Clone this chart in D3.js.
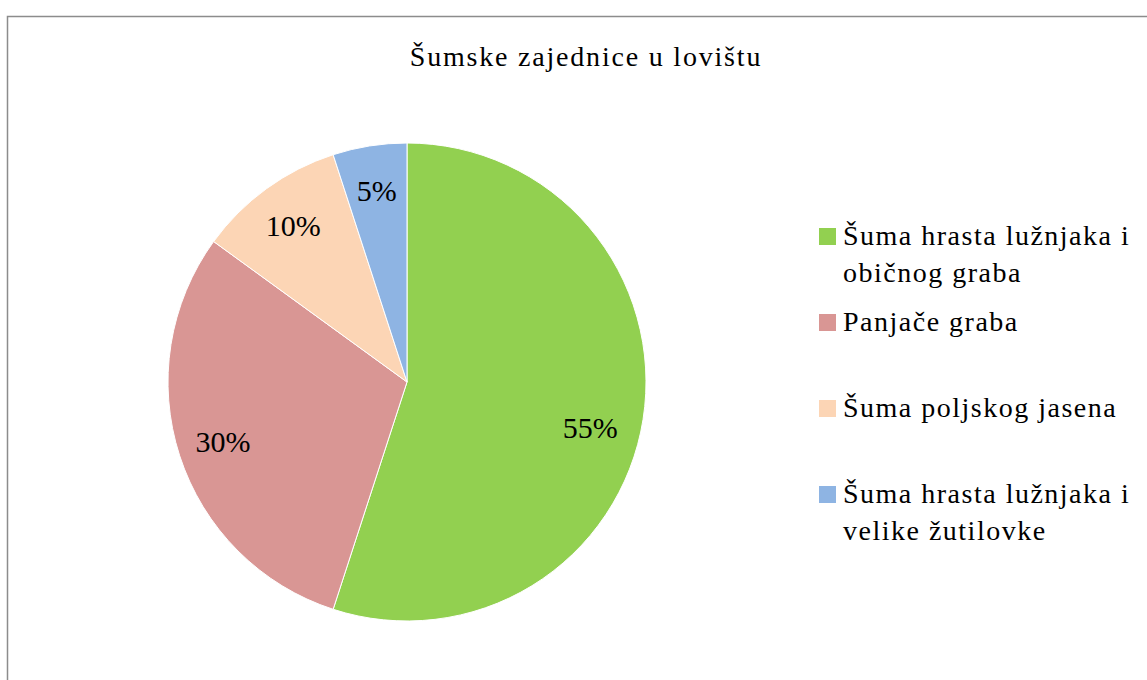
<!DOCTYPE html>
<html>
<head>
<meta charset="utf-8">
<script src="https://cdn.jsdelivr.net/npm/d3@7"></script>
<style>
  body { margin: 0; background: #fff; }
</style>
</head>
<body>
<svg id="chart" width="1147" height="680"></svg>
<script>
// chart data
const categories = [
    ["Šuma hrasta lužnjaka i", "običnog graba"],
    ["Panjače graba"],
    ["Šuma poljskog jasena"],
    ["Šuma hrasta lužnjaka i", "velike žutilovke"]
];
const values = [55, 30, 10, 5];
const colors = ["#92D050", "#D99694", "#FCD5B5", "#8EB4E3"];
const title = "Šumske zajednice u lovištu";

const FONT = "'Liberation Serif', 'Times New Roman', Times, 'DejaVu Serif', serif";

const svg = d3.select("#chart");

// outer frame (cut off at right/bottom like the screenshot)
svg.append("rect")
    .attr("x", 7.5).attr("y", 16.5)
    .attr("width", 1200).attr("height", 700)
    .attr("fill", "none").attr("stroke", "#8c8c8c").attr("stroke-width", 1.5);

svg.append("text")
    .attr("x", 586).attr("y", 66)
    .attr("text-anchor", "middle")
    .attr("font-family", FONT)
    .attr("font-size", 28)
    .attr("letter-spacing", 1.8)
    .text(title);

const cx = 407, cy = 382, r = 239;
const pie = d3.pie().sort(null).value(d => d);
const arcs = pie(values);
const arc = d3.arc().innerRadius(0).outerRadius(r);
const labelArc = d3.arc().innerRadius(r * 0.81).outerRadius(r * 0.81);

const g = svg.append("g").attr("transform", `translate(${cx},${cy})`);

g.selectAll("path")
    .data(arcs).enter().append("path")
    .attr("d", arc)
    .attr("fill", (d, i) => colors[i])
    .attr("stroke", "#fff")
    .attr("stroke-width", 1);

const total = d3.sum(values);
g.selectAll("text.lbl")
    .data(arcs).enter().append("text")
    .attr("class", "lbl")
    .attr("transform", d => {
        const [x, y] = labelArc.centroid(d);
        // big slice: Excel pushes its label a bit further down
        const big = d.data / total > 0.5;
        return `translate(${big ? x - 8 : x},${big ? y + 15 : y})`;
    })
    .attr("text-anchor", "middle")
    .attr("dy", "0.35em")
    .attr("font-family", FONT)
    .attr("font-size", 30)
    .text(d => Math.round(d.data / total * 100) + "%");

// legend
const legendY = [228, 314, 400, 486];
const legend = svg.append("g").attr("transform", "translate(819,0)");
categories.forEach((lines, i) => {
    legend.append("rect")
        .attr("x", 0).attr("y", legendY[i])
        .attr("width", 17).attr("height", 17)
        .attr("fill", colors[i]);
    const t = legend.append("text")
        .attr("x", 24).attr("y", legendY[i] + 17)
        .attr("font-family", FONT)
        .attr("font-size", 28)
        .attr("letter-spacing", 1.5);
    lines.forEach((line, j) => {
        t.append("tspan")
            .attr("x", 24)
            .attr("dy", j === 0 ? 0 : 37)
            .text(line);
    });
});
</script>
</body>
</html>
